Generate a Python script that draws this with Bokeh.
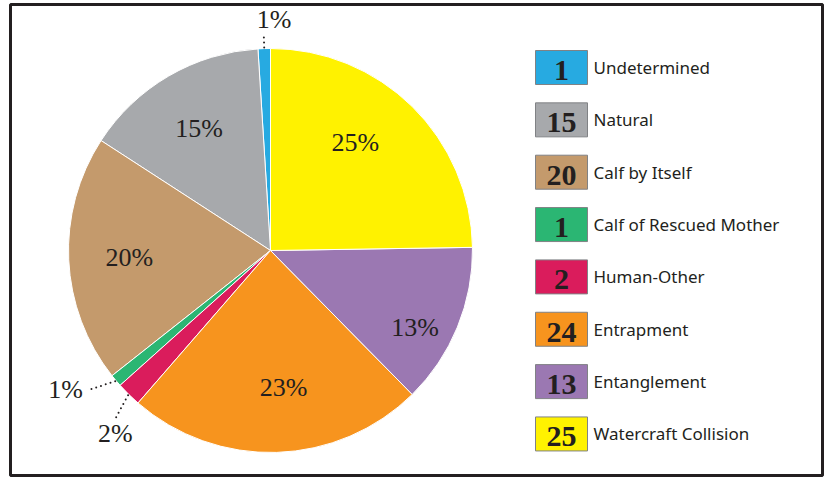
import numpy as np
from bokeh.plotting import figure
from bokeh.models import Range1d, ColumnDataSource
from bokeh.core.properties import value
from bokeh.embed import file_html
from bokeh.resources import INLINE

# ---- data (legend order, top to bottom) ----
categories = ["Undetermined", "Natural", "Calf by Itself", "Calf of Rescued Mother",
              "Human-Other", "Entrapment", "Entanglement", "Watercraft Collision"]
counts = [1, 15, 20, 1, 2, 24, 13, 25]
percent_labels = ["1%", "15%", "20%", "1%", "2%", "23%", "13%", "25%"]
colors = ["#27AAE1", "#A7A9AC", "#C49A6C", "#2BB673",
          "#DA1C5C", "#F7941E", "#9B78B2", "#FFF200"]

# ---- layout (picture pixel coordinates; data y = FH - picture y) ----
FW, FH = 827, 480
def py(y):
    return FH - y

CX, CY, R = 270, py(250), 202
SERIF = value("Liberation Serif")
SANS = value("Noto Sans")
INK = "#231F20"

p = figure(width=FW, height=FH, output_backend="svg", toolbar_location=None,
           x_range=Range1d(0, FW), y_range=Range1d(0, FH), min_border=0)
p.axis.visible = False
p.grid.visible = False
p.outline_line_color = None
p.background_fill_color = "white"

# frame
p.quad(left=[10], right=[822], top=[py(4)], bottom=[py(475)], fill_color=None,
       line_color=INK, line_width=3)

# ---- pie: clockwise from 12 o'clock, in reverse legend order ----
total = float(sum(counts))
starts, ends, mids = [0.0] * 8, [0.0] * 8, [0.0] * 8
cum = 0.0
for i in reversed(range(len(counts))):
    frac = counts[i] / total
    a_end = np.pi / 2 - cum * 2 * np.pi
    a_start = np.pi / 2 - (cum + frac) * 2 * np.pi
    starts[i], ends[i] = a_start, a_end
    mids[i] = (a_start + a_end) / 2
    cum += frac

src = ColumnDataSource(dict(start=starts, end=ends, color=colors))
p.wedge(x=CX, y=CY, radius=R, start_angle="start", end_angle="end",
        fill_color="color", line_color="white", line_width=1, source=src)

# big slice labels: (angle tweak in degrees, radius fraction)
big_style = {1: (0.0, 0.70), 2: (0.0, 0.70), 5: (3.7, 0.68),
             6: (-5.7, 0.81), 7: (6.4, 0.68)}
bx, by, bt = [], [], []
for i, (dang, rf) in big_style.items():
    a = mids[i] + np.deg2rad(dang)
    bx.append(CX + rf * R * np.cos(a))
    by.append(CY + rf * R * np.sin(a))
    bt.append(percent_labels[i])
p.text(x=bx, y=by, text=bt, text_font=SERIF, text_font_size="26px",
       text_align="center", text_baseline="middle", text_color=INK)

# small slice labels with dotted leaders
# (angle tweak in degrees, leader end radius, text anchor side)
small_style = {0: (0.0, 216, "up"), 3: (-2.6, 229, "left"), 4: (2.0, 231, "down")}
for i, (dang, rad, side) in small_style.items():
    a0 = mids[i]
    a1 = mids[i] + np.deg2rad(dang)
    x0, y0 = CX + (R + 1) * np.cos(a0), CY + (R + 1) * np.sin(a0)
    x1, y1 = CX + rad * np.cos(a1), CY + rad * np.sin(a1)
    p.line([x0, x1], [y0, y1], line_color=INK, line_width=2,
           line_dash="0 5", line_cap="round")
    if side == "up":
        tx, ty, al, bl = x1 - 7, y1 + 1, "left", "bottom"
    elif side == "left":
        tx, ty, al, bl = x1 - 6, y1, "right", "middle"
    else:
        tx, ty, al, bl = x1 + 1, y1 + 2, "center", "top"
    p.text(x=[tx], y=[ty], text=[percent_labels[i]], text_font=SERIF,
           text_font_size="26px", text_align=al, text_baseline=bl, text_color=INK)

# ---- legend ----
LX, LW, LH, LTOP, LSTEP = 535, 52, 34, 50, 52.35
n = len(categories)
lcy = [py(LTOP + LH / 2 + k * LSTEP) for k in range(n)]
p.rect(x=[LX + LW / 2] * n, y=lcy, width=LW, height=LH, fill_color=colors,
       line_color="#808285", line_width=1)
p.text(x=[LX + LW / 2] * n, y=[v - 3 for v in lcy], text=[str(c) for c in counts],
       text_font=SERIF, text_font_style="bold", text_font_size="30px",
       text_align="center", text_baseline="middle", text_color=INK)
p.text(x=[LX + LW + 6] * n, y=lcy, text=categories, text_font=SANS,
       text_font_size="17px", text_align="left", text_baseline="middle",
       text_color=INK)

open("out.html", "w").write(file_html(p, INLINE))
